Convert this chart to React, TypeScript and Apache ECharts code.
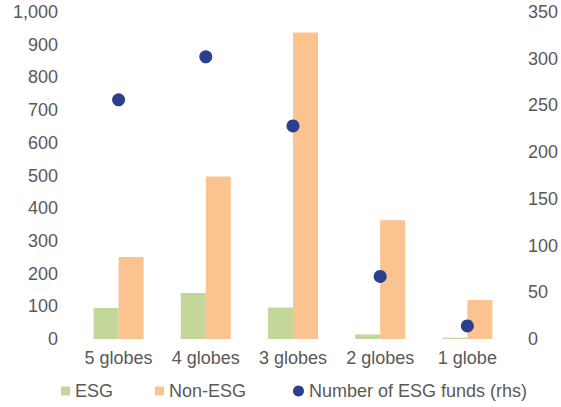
import React, { useEffect, useRef } from "react";
import * as echarts from "echarts";

const categories = ["5 globes", "4 globes", "3 globes", "2 globes", "1 globe"];
const esgValues = [95, 141, 96, 14, 4];
const nonEsgValues = [251, 497, 937, 363, 119];
const esgFundCounts = [256, 302, 228, 67, 14];
const leftTicks = { min: 0, max: 1000, interval: 100 };
const rightTicks = { min: 0, max: 350, interval: 50 };

const TEXT = "#595959";
const FONT = "'Liberation Sans', Arial, sans-serif";

export default function App() {
  const ref = useRef<HTMLDivElement>(null);
  useEffect(() => {
    if (!ref.current) return;
    const chart = echarts.init(ref.current, null, { renderer: "svg" });
    const legendText = { color: TEXT, fontSize: 18, fontFamily: FONT };
    chart.setOption({
      animation: false,
      textStyle: { fontFamily: FONT },
      grid: { left: 75, right: 49, top: 12, bottom: 68 },
      legend: [
        { data: ["ESG"], left: 61, top: 382, padding: 0, itemWidth: 9, itemHeight: 9, icon: "rect", textStyle: legendText },
        { data: ["Non-ESG"], left: 155, top: 382, padding: 0, itemWidth: 9, itemHeight: 9, icon: "rect", textStyle: legendText },
        { data: ["Number of ESG funds (rhs)"], left: 293, top: 382, padding: 0, itemWidth: 11, itemHeight: 11, icon: "circle", textStyle: legendText },
      ],
      xAxis: {
        type: "category",
        data: categories,
        axisLine: { show: false },
        axisTick: { show: false },
        axisLabel: { color: TEXT, fontSize: 18, fontFamily: FONT, margin: 10, interval: 0, hideOverlap: false },
      },
      yAxis: [
        {
          type: "value",
          ...leftTicks,
          splitLine: { show: false },
          axisLine: { show: false },
          axisTick: { show: false },
          axisLabel: {
            color: TEXT,
            fontSize: 18,
            fontFamily: FONT,
            margin: 17,
            formatter: (v: number) => v.toLocaleString("en-US"),
          },
        },
        {
          type: "value",
          ...rightTicks,
          position: "right",
          splitLine: { show: false },
          axisLine: { show: false },
          axisTick: { show: false },
          axisLabel: { color: TEXT, fontSize: 18, fontFamily: FONT, margin: 17 },
        },
      ],
      series: [
        {
          name: "ESG",
          type: "bar",
          data: esgValues,
          barWidth: 25,
          barGap: "0%",
          itemStyle: { color: "#c4d79b" },
        },
        {
          name: "Non-ESG",
          type: "bar",
          data: nonEsgValues,
          barWidth: 25,
          barGap: "0%",
          itemStyle: { color: "#fac390" },
        },
        {
          name: "Number of ESG funds (rhs)",
          type: "scatter",
          yAxisIndex: 1,
          data: esgFundCounts,
          symbolSize: 13,
          itemStyle: { color: "#2b3f8f", opacity: 1 },
        },
      ],
    });
    return () => chart.dispose();
  }, []);
  return <div ref={ref} style={{ width: 561, height: 407, position: "absolute", left: 0, top: 0 }} />;
}
